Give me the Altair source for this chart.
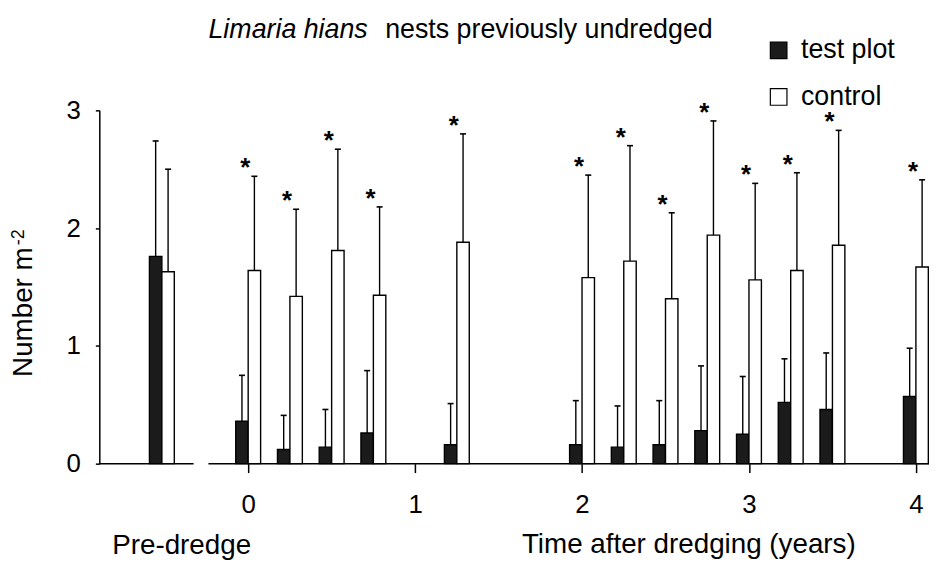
import altair as alt
import pandas as pd

# ---------------- data ----------------
periods = ["Pre-dredge", "0", "0.25", "0.5", "0.75", "1.25", "2", "2.25",
           "2.5", "2.75", "3", "3.25", "3.5", "4"]
years = [None, 0, 0.25, 0.5, 0.75, 1.25, 2, 2.25, 2.5, 2.75, 3, 3.25, 3.5, 4]
test_mean = [1.76, 0.36, 0.12, 0.14, 0.26, 0.16, 0.16, 0.14, 0.16, 0.28, 0.25, 0.52, 0.46, 0.57]
test_err = [0.98, 0.39, 0.29, 0.32, 0.53, 0.35, 0.375, 0.35, 0.375, 0.55, 0.49, 0.37, 0.48, 0.41]
control_mean = [1.63, 1.64, 1.42, 1.81, 1.43, 1.88, 1.58, 1.72, 1.40, 1.94, 1.56, 1.64, 1.855, 1.67]
control_err = [0.87, 0.80, 0.74, 0.86, 0.75, 0.92, 0.87, 0.98, 0.73, 0.97, 0.82, 0.83, 0.975, 0.74]
significant = [False] + [True] * 13
series_names = ["test plot", "control"]
y_ticks = [0, 1, 2, 3]
x_ticks = [0, 1, 2, 3, 4]

# ---------------- layout constants ----------------
PRE_X = -0.517          # where the pre-dredge pair sits on the shared axis
BAR_W = 0.0745          # bar width in axis units
CAP = 0.018             # half-width of error caps
XMIN, XMAX = -0.8918, 4.0785
LEFT_END, RIGHT_START = -0.327, -0.238
FONT = "Liberation Sans"

rows = []
for i, p in enumerate(periods):
    pos = PRE_X if years[i] is None else years[i]
    for s, m, e, x0, x1 in [
        ("test plot", test_mean[i], test_err[i], pos - BAR_W, pos),
        ("control", control_mean[i], control_err[i], pos, pos + BAR_W),
    ]:
        c = (x0 + x1) / 2
        rows.append(dict(period=p, series=s, pos=pos, x0=x0, x1=x1, center=c,
                         cap_l=c - CAP, cap_r=c + CAP, mean=m, upper=m + e,
                         sig=significant[i], zero=0.0))
df = pd.DataFrame(rows)
base_df = pd.DataFrame({"a": [XMIN, RIGHT_START], "b": [LEFT_END, XMAX]})

xs = alt.Scale(domain=[XMIN, XMAX], nice=False, zero=False, padding=0)
ys = alt.Scale(domain=[0, 3], nice=False, padding=0)

x_axis = alt.Axis(values=x_ticks, domain=False, tickSize=9, tickWidth=1.5, tickColor="black",
                  labelPadding=19, format="d", title=None, grid=False, labelFontSize=26,
                  labelFont=FONT, labelColor="black")
y_axis = alt.Axis(values=y_ticks, tickSize=4, tickWidth=1.5, tickColor="black", domainColor="black",
                  domainWidth=1.5, labelPadding=15, format="d", title=None, grid=False,
                  labelFontSize=26, labelFont=FONT, labelColor="black")

bars = alt.Chart(df).mark_bar(stroke="black", strokeWidth=1.4).encode(
    x=alt.X("x0:Q", scale=xs, axis=x_axis),
    x2="x1:Q",
    y=alt.Y("mean:Q", scale=ys, axis=y_axis),
    y2="zero:Q",
    fill=alt.Fill("series:N", scale=alt.Scale(domain=series_names, range=["#1b1b1b", "#ffffff"]),
                  legend=alt.Legend(title=None, orient="none", legendX=671, legendY=-74,
                                    labelFontSize=27, labelFont=FONT, labelColor="black",
                                    symbolType="square", symbolSize=280, symbolStrokeColor="black",
                                    symbolStrokeWidth=1.2, rowPadding=19, labelOffset=9, padding=0)),
)

stems = alt.Chart(df).mark_rule(color="black", strokeWidth=1.4).encode(
    x=alt.X("center:Q", scale=xs), y=alt.Y("mean:Q", scale=ys), y2="upper:Q")
caps = alt.Chart(df).mark_rule(color="black", strokeWidth=1.6).encode(
    x=alt.X("cap_l:Q", scale=xs), x2="cap_r:Q", y=alt.Y("upper:Q", scale=ys))

stars = alt.Chart(df[(df.series == "control") & (df.sig)]).mark_text(
    text="*", fontSize=26, fontWeight="bold", font=FONT, dx=-3, baseline="alphabetic", color="black"
).encode(x=alt.X("pos:Q", scale=xs), y=alt.Y("upper:Q", scale=ys))

baseline = alt.Chart(base_df).mark_rule(color="black", strokeWidth=1.5).encode(
    x=alt.X("a:Q", scale=xs), x2="b:Q", y=alt.datum(0, scale=ys))

def label(txt, x, y, size, **kw):
    return alt.Chart(pd.DataFrame({"t": [txt]})).mark_text(
        font=FONT, fontSize=size, color="black", baseline="alphabetic", **kw
    ).encode(text="t:N", x=alt.value(x), y=alt.value(y))

title1 = label("Limaria hians", 110, -73, 27, align="left", fontStyle="italic")
title2 = label("nests previously undredged", 288, -73, 27, align="left")
ytitle = label("Number m", -68, 138, 28, align="right", angle=270)
ysup = label("-2", -76, 136, 18, align="left", angle=270)
xt1 = label("Pre-dredge", 83, 447, 28, align="center")
xt2 = label("Time after dredging (years)", 594, 446, 28, align="center")

chart = alt.layer(bars, stems, caps, stars, baseline, title1, title2, ytitle, ysup, xt1, xt2).properties(
    width=836, height=356,
    autosize=alt.AutoSizeParams(type="none"),
    padding={"left": 92, "top": 101, "right": 0, "bottom": 100},
).configure_view(strokeWidth=0)

chart.save("out.html", embed_options={"renderer": "svg", "actions": False})
